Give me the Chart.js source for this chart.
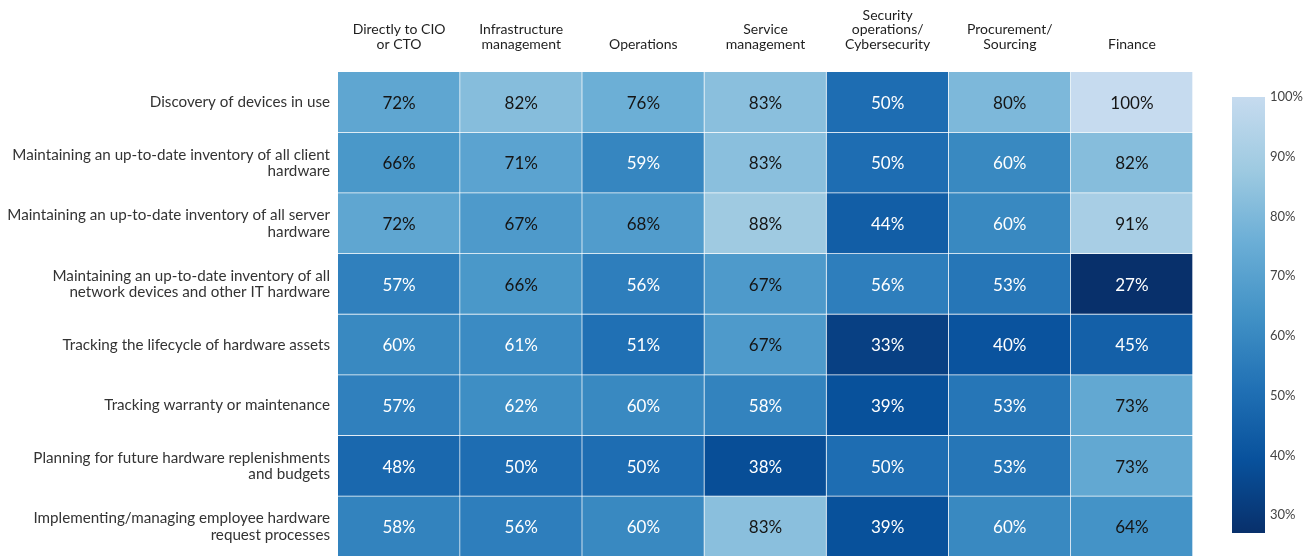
<!DOCTYPE html>
<html>

<head>
    <title>Hardware asset tasks by reporting line</title>
    <script src="https://cdn.jsdelivr.net/npm/chart.js"></script>
    <style>
        html, body {
            margin: 0;
            background: #ffffff;
            overflow: hidden;
        }

        #heat {
            position: absolute;
            left: 0;
            top: 0;
        }

        #scaleBar {
            position: absolute;
            left: 1225px;
            top: 80px;
        }
    </style>
</head>

<body>
    <canvas id="heat" width="1193" height="557"></canvas>
    <canvas id="scaleBar" width="86" height="470"></canvas>

    <script>
        // column headers (who the respondent reports to)
        var columns = [
            ['Directly to CIO', 'or CTO'],
            ['Infrastructure', 'management'],
            ['Operations'],
            ['Service', 'management'],
            ['Security', 'operations/', 'Cybersecurity'],
            ['Procurement/', 'Sourcing'],
            ['Finance']
        ];

        // row labels
        var tasks = [
            ['Discovery of devices in use'],
            ['Maintaining an up-to-date inventory of all client', 'hardware'],
            ['Maintaining an up-to-date inventory of all server', 'hardware'],
            ['Maintaining an up-to-date inventory of all', 'network devices and other IT hardware'],
            ['Tracking the lifecycle of hardware assets'],
            ['Tracking warranty or maintenance'],
            ['Planning for future hardware replenishments', 'and budgets'],
            ['Implementing/managing employee hardware', 'request processes']
        ];

        // % per row, in column order
        var discovery = [72, 82, 76, 83, 50, 80, 100];
        var clientHw = [66, 71, 59, 83, 50, 60, 82];
        var serverHw = [72, 67, 68, 88, 44, 60, 91];
        var networkHw = [57, 66, 56, 67, 56, 53, 27];
        var lifecycle = [60, 61, 51, 67, 33, 40, 45];
        var warranty = [57, 62, 60, 58, 39, 53, 73];
        var planning = [48, 50, 50, 38, 50, 53, 73];
        var requests = [58, 56, 60, 83, 39, 60, 64];

        var cbTicks = [30, 40, 50, 60, 70, 80, 90, 100];
        var vMin = 27, vMax = 100;

        var rowsData = [discovery, clientHw, serverHw, networkHw, lifecycle, warranty, planning, requests];

        // reversed Blues, dark -> light
        var stops = [
            [8, 48, 107], [8, 81, 156], [33, 113, 181], [66, 146, 198],
            [107, 174, 214], [158, 202, 225], [198, 219, 239]
        ];

        function colorFor(v) {
            var t = (v - vMin) / (vMax - vMin);
            t = Math.max(0, Math.min(1, t)) * (stops.length - 1);
            var i = Math.min(Math.floor(t), stops.length - 2);
            var f = t - i;
            var a = stops[i], b = stops[i + 1];
            var c = a.map(function (x, k) { return Math.round(x + (b[k] - x) * f); });
            return 'rgb(' + c.join(',') + ')';
        }

        var font = "Lato, 'Open Sans', sans-serif";

        var datasets = columns.map(function (col, j) {
            var pct = rowsData.map(function (r) { return r[j]; });
            return {
                label: col.join(' '),
                data: pct.map(function () { return 1; }),
                pct: pct,
                backgroundColor: pct.map(colorFor),
                borderColor: 'rgba(255, 255, 255, 0.3)',
                borderWidth: { top: 0, left: 0, right: 1, bottom: 1 },
                borderSkipped: false,
                barPercentage: 1,
                categoryPercentage: 1
            };
        });

        var cellText = {
            id: 'cellText',
            afterDatasetsDraw: function (chart) {
                var ctx = chart.ctx;
                ctx.save();
                ctx.font = '17px ' + font;
                ctx.textAlign = 'center';
                ctx.textBaseline = 'middle';
                chart.data.datasets.forEach(function (ds, j) {
                    chart.getDatasetMeta(j).data.forEach(function (bar, i) {
                        var v = ds.pct[i];
                        ctx.fillStyle = v < 63 ? '#ffffff' : '#151515';
                        ctx.fillText(v + '%', (bar.x + bar.base) / 2, bar.y + 1);
                    });
                });
                ctx.restore();
            }
        };

        new Chart(document.getElementById('heat'), {
            type: 'bar',
            data: { labels: tasks, datasets: datasets },
            options: {
                indexAxis: 'y',
                responsive: false,
                animation: false,
                layout: { padding: 0 },
                plugins: { legend: { display: false }, tooltip: { enabled: false } },
                scales: {
                    x: {
                        type: 'linear',
                        position: 'top',
                        stacked: true,
                        min: 0,
                        max: columns.length,
                        grid: { display: false, drawTicks: false },
                        border: { display: false },
                        afterBuildTicks: function (s) {
                            s.ticks = columns.map(function (c, i) { return { value: i + 0.5 }; });
                        },
                        afterFit: function (s) { s.height = 72; },
                        ticks: {
                            autoSkip: false,
                            maxRotation: 0,
                            padding: 20,
                            color: '#1e1e1e',
                            font: { family: font, size: 14, lineHeight: 1.05 },
                            callback: function (v, i) { return columns[i]; }
                        }
                    },
                    y: {
                        stacked: true,
                        grid: { display: false, drawTicks: false },
                        border: { display: false },
                        afterFit: function (s) {
                            s.width = 338;
                            s.paddingTop = 0;
                            s.paddingBottom = 0;
                        },
                        ticks: {
                            autoSkip: false,
                            padding: 8,
                            color: '#333333',
                            font: { family: font, size: 15.2, lineHeight: 1.07 }
                        }
                    }
                }
            },
            plugins: [cellText]
        });

        // colour scale bar
        new Chart(document.getElementById('scaleBar'), {
            type: 'bar',
            data: {
                labels: ['scale'],
                datasets: [{
                    data: [[vMin, vMax]],
                    barPercentage: 1,
                    categoryPercentage: 1,
                    backgroundColor: function (c) {
                        var chart = c.chart;
                        if (!chart.chartArea) return null;
                        var yS = chart.scales.y;
                        var g = chart.ctx.createLinearGradient(0, yS.getPixelForValue(vMin), 0, yS.getPixelForValue(vMax));
                        stops.forEach(function (s, i) {
                            g.addColorStop(i / (stops.length - 1), 'rgb(' + s.join(',') + ')');
                        });
                        return g;
                    }
                }]
            },
            options: {
                responsive: false,
                animation: false,
                layout: { padding: { left: 7, top: 17, bottom: 17, right: 0 } },
                plugins: { legend: { display: false }, tooltip: { enabled: false } },
                scales: {
                    x: { display: false },
                    y: {
                        position: 'right',
                        min: vMin,
                        max: vMax,
                        grid: { display: false, drawTicks: false },
                        border: { display: false },
                        afterBuildTicks: function (s) {
                            s.ticks = cbTicks.map(function (v) { return { value: v }; });
                        },
                        afterFit: function (s) { s.width = 46; },
                        ticks: {
                            padding: 5,
                            color: '#444444',
                            font: { family: font, size: 13 },
                            callback: function (v) { return v + '%'; }
                        }
                    }
                }
            }
        });
    </script>
</body>

</html>
